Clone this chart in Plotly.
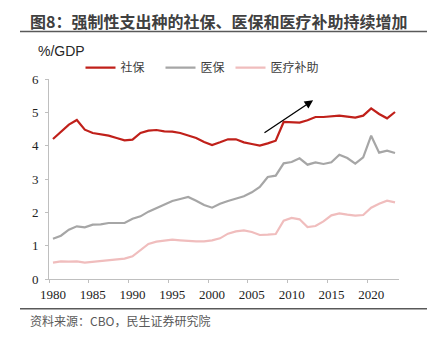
import plotly.graph_objects as go

years = list(range(1980, 2024))
social_security = [4.20, 4.41, 4.63, 4.77, 4.48, 4.38, 4.35, 4.30, 4.23, 4.16,
                   4.18, 4.38, 4.45, 4.47, 4.43, 4.42, 4.38, 4.31, 4.23, 4.11,
                   4.02, 4.10, 4.19, 4.19, 4.10, 4.05, 4.00, 4.07, 4.15, 4.71,
                   4.71, 4.69, 4.76, 4.86, 4.86, 4.87, 4.90, 4.87, 4.84, 4.90,
                   5.12, 4.95, 4.82, 5.01]
medicare = [1.21, 1.30, 1.48, 1.58, 1.55, 1.63, 1.64, 1.68, 1.68, 1.68,
            1.81, 1.88, 2.02, 2.13, 2.23, 2.34, 2.40, 2.46, 2.35, 2.22,
            2.14, 2.26, 2.34, 2.42, 2.48, 2.60, 2.76, 3.06, 3.10, 3.47,
            3.51, 3.62, 3.43, 3.50, 3.45, 3.50, 3.73, 3.63, 3.46, 3.65,
            4.30, 3.79, 3.85, 3.78]
medicaid = [0.49, 0.53, 0.52, 0.53, 0.49, 0.51, 0.53, 0.56, 0.58, 0.61,
            0.68, 0.86, 1.05, 1.12, 1.15, 1.18, 1.16, 1.14, 1.13, 1.13,
            1.16, 1.22, 1.36, 1.43, 1.46, 1.41, 1.32, 1.33, 1.35, 1.75,
            1.83, 1.79, 1.56, 1.59, 1.73, 1.91, 1.97, 1.93, 1.90, 1.92,
            2.14, 2.26, 2.35, 2.30]
series_names = ["社保", "医保", "医疗补助"]
series_colors = ["#C0201A", "#A6A6A6", "#F0BDBD"]
series_legends = ["legend", "legend", "legend2"]
xtick_years = [1980, 1985, 1990, 1995, 2000, 2005, 2010, 2015, 2020]
ytick_vals = [0, 1, 2, 3, 4, 5, 6]
title_text = "图8：强制性支出种的社保、医保和医疗补助持续增加"
source_text = "资料来源：CBO，民生证券研究院"
unit_text = "%/GDP"
arrow_from = (2006.4, 4.36)
arrow_to = (2012.7, 5.36)

fig = go.Figure()
for name, vals, col, lg in zip(series_names, [social_security, medicare, medicaid],
                               series_colors, series_legends):
    fig.add_trace(go.Scatter(x=years, y=vals, mode="lines", name=name, legend=lg,
                             line=dict(color=col, width=2.2)))

axis_col = "#BFBFBF"
tick_font = dict(family="Liberation Serif, Times New Roman, serif", size=13, color="#222222")
legend_font = dict(family="Noto Sans CJK SC", size=12, color="#404040")
legend_y = (279.3 - 68) / 200

fig.update_layout(
    width=434, height=343,
    margin=dict(l=49, r=35, t=79, b=64),
    paper_bgcolor="white", plot_bgcolor="white",
    showlegend=True,
    legend=dict(orientation="h", x=0.09, y=legend_y, xanchor="left", yanchor="middle",
                font=legend_font, itemwidth=30, entrywidth=35, entrywidthmode="pixels",
                tracegroupgap=0, bgcolor="rgba(0,0,0,0)"),
    legend2=dict(orientation="h", x=(238 - 7.5 - 49) / 350, y=legend_y,
                 xanchor="left", yanchor="middle",
                 font=legend_font, itemwidth=30,
                 tracegroupgap=0, bgcolor="rgba(0,0,0,0)"),
    xaxis=dict(range=[1979.5, 2023.5], tickmode="array",
               tickvals=[y - 0.5 for y in xtick_years],
               ticktext=[str(y) for y in xtick_years],
               ticklabelshift=4,
               ticks="outside", ticklen=3, tickcolor=axis_col,
               showline=True, linecolor=axis_col, linewidth=1,
               showgrid=False, zeroline=False, tickfont=tick_font),
    yaxis=dict(range=[0, 6], tickmode="array", tickvals=ytick_vals,
               ticks="outside", ticklen=3, tickcolor=axis_col,
               showline=True, linecolor=axis_col, linewidth=1,
               showgrid=False, zeroline=False, tickfont=tick_font,
               ticklabelstandoff=4),
)

fig.add_annotation(x=arrow_to[0], y=arrow_to[1], ax=arrow_from[0], ay=arrow_from[1],
                   xref="x", yref="y", axref="x", ayref="y", text="",
                   showarrow=True, arrowhead=2, arrowsize=1.3, arrowwidth=1.3,
                   arrowcolor="#000000")

# title
fig.add_annotation(text="<b>" + title_text + "</b>", xref="paper", yref="paper",
                   x=(218.5 - 49) / 350, y=(279.3 - 21) / 200, xanchor="center",
                   yanchor="middle", showarrow=False,
                   font=dict(family="Noto Sans CJK SC", size=16, color="#404040"))
fig.add_shape(type="line", xref="paper", yref="paper",
              x0=(20 - 49) / 350, x1=(427 - 49) / 350,
              y0=(279.3 - 31.7) / 200, y1=(279.3 - 31.7) / 200,
              line=dict(color="#595959", width=1.5))
fig.add_annotation(text=unit_text, xref="paper", yref="paper",
                   x=(36 - 49) / 350, y=(279.3 - 51.7) / 200, xanchor="left",
                   yanchor="middle", showarrow=False,
                   font=dict(family="Liberation Sans, Arial", size=14, color="#262626"))
fig.add_shape(type="line", xref="paper", yref="paper",
              x0=(20 - 49) / 350, x1=(427 - 49) / 350,
              y0=(279.3 - 309) / 200, y1=(279.3 - 309) / 200,
              line=dict(color="#595959", width=1.5))
fig.add_annotation(text=source_text, xref="paper", yref="paper",
                   x=(28 - 49) / 350, y=(279.3 - 321) / 200, xanchor="left",
                   yanchor="middle", showarrow=False,
                   font=dict(family="Noto Sans CJK SC", size=12, color="#595959"))

fig.write_html("out.html")
